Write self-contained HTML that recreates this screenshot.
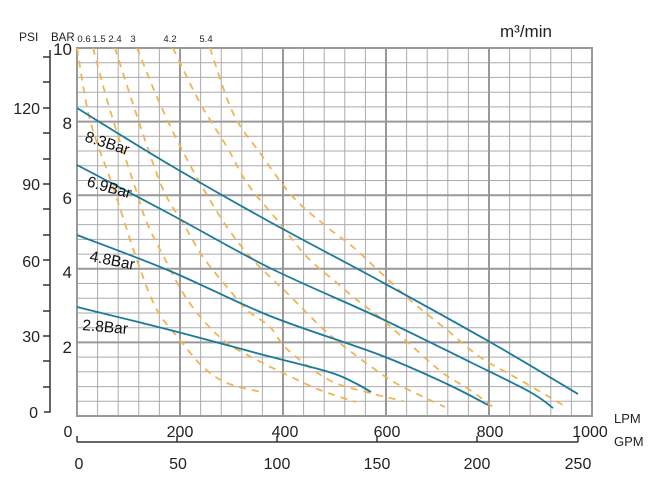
<!DOCTYPE html>
<html><head><meta charset="utf-8"><style>
html,body{margin:0;padding:0;background:#fff;}
svg{display:block;font-family:"Liberation Sans",sans-serif;}
</style></head><body>
<svg id="ch" width="668" height="490" viewBox="0 0 668 490" xmlns="http://www.w3.org/2000/svg">
<g stroke="#ababab" stroke-width="1">
<line x1="97.6" y1="48" x2="97.6" y2="416"/><line x1="118.2" y1="48" x2="118.2" y2="416"/><line x1="138.8" y1="48" x2="138.8" y2="416"/><line x1="159.4" y1="48" x2="159.4" y2="416"/>
<line x1="200.6" y1="48" x2="200.6" y2="416"/><line x1="221.2" y1="48" x2="221.2" y2="416"/><line x1="241.8" y1="48" x2="241.8" y2="416"/><line x1="262.4" y1="48" x2="262.4" y2="416"/>
<line x1="303.6" y1="48" x2="303.6" y2="416"/><line x1="324.2" y1="48" x2="324.2" y2="416"/><line x1="344.8" y1="48" x2="344.8" y2="416"/><line x1="365.4" y1="48" x2="365.4" y2="416"/>
<line x1="406.6" y1="48" x2="406.6" y2="416"/><line x1="427.2" y1="48" x2="427.2" y2="416"/><line x1="447.8" y1="48" x2="447.8" y2="416"/><line x1="468.4" y1="48" x2="468.4" y2="416"/>
<line x1="509.6" y1="48" x2="509.6" y2="416"/><line x1="530.2" y1="48" x2="530.2" y2="416"/><line x1="550.8" y1="48" x2="550.8" y2="416"/><line x1="571.4" y1="48" x2="571.4" y2="416"/>
<line x1="77" y1="62.7" x2="592" y2="62.7"/><line x1="77" y1="77.4" x2="592" y2="77.4"/><line x1="77" y1="92.2" x2="592" y2="92.2"/><line x1="77" y1="106.9" x2="592" y2="106.9"/>
<line x1="77" y1="136.3" x2="592" y2="136.3"/><line x1="77" y1="151" x2="592" y2="151"/><line x1="77" y1="165.8" x2="592" y2="165.8"/><line x1="77" y1="180.5" x2="592" y2="180.5"/>
<line x1="77" y1="209.9" x2="592" y2="209.9"/><line x1="77" y1="224.6" x2="592" y2="224.6"/><line x1="77" y1="239.4" x2="592" y2="239.4"/><line x1="77" y1="254.1" x2="592" y2="254.1"/>
<line x1="77" y1="283.5" x2="592" y2="283.5"/><line x1="77" y1="298.2" x2="592" y2="298.2"/><line x1="77" y1="313" x2="592" y2="313"/><line x1="77" y1="327.7" x2="592" y2="327.7"/>
<line x1="77" y1="357.1" x2="592" y2="357.1"/><line x1="77" y1="371.8" x2="592" y2="371.8"/><line x1="77" y1="386.6" x2="592" y2="386.6"/><line x1="77" y1="401.3" x2="592" y2="401.3"/>
</g>
<g stroke="#999" stroke-width="2" fill="none">
<line x1="180" y1="48" x2="180" y2="416"/><line x1="283" y1="48" x2="283" y2="416"/><line x1="386" y1="48" x2="386" y2="416"/><line x1="489" y1="48" x2="489" y2="416"/>
<line x1="77" y1="121.6" x2="592" y2="121.6"/><line x1="77" y1="195.2" x2="592" y2="195.2"/><line x1="77" y1="268.8" x2="592" y2="268.8"/><line x1="77" y1="342.4" x2="592" y2="342.4"/>
<rect x="77" y="48" width="515" height="368"/>
</g>
<g class="sm" stroke="#f0b454" stroke-width="1.8" fill="none" stroke-dasharray="7,6" stroke-linejoin="round">
<polyline points="77,48 90,120 113,187 138,263 157,310 180,340 203,367 227,383 261,392"/>
<polyline points="93,48 110,110 135,187 147,223 167,263 183,293 203,320 227,343 257,360 283,373 320,390 356,402"/>
<polyline points="115,48 135,110 162,187 183,223 203,257 227,287 247,310 270,327 288,350 329,380 370,393 403,401"/>
<polyline points="137,48 157,97 177,140 200,183 227,227 253,260 287,293 330,335 380,373 403,387 445,407"/>
<polyline points="173,48 200,103 227,147 247,183 277,220 307,257 337,283 357,300 383,320 413,347 443,373 470,390 497,410"/>
<polyline points="210,48 233,113 260,153 293,197 327,227 353,247 380,272 410,300 447,330 480,357 520,380 563,405"/>
</g>
<g class="sm" stroke="#1b7a9a" stroke-width="1.8" fill="none" stroke-linejoin="round">
<polyline points="77,108 170,165 270,222 380,281 490,342 578,394"/>
<polyline points="77,165 170,214 270,268 380,318 470,362 530,392 553,408"/>
<polyline points="77,235 170,271 270,316 380,355 447,384 488,405"/>
<polyline points="77,307 170,330 260,354 329,372 355,383 371,392"/>
</g>
<g font-size="15.5" fill="#111">
<text transform="translate(84,141) rotate(18)">8.3Bar</text>
<text transform="translate(86,186) rotate(16)">6.9Bar</text>
<text transform="translate(89,261) rotate(11)">4.8Bar</text>
<text transform="translate(82,330) rotate(5)">2.8Bar</text>
</g>
<g stroke="#333" stroke-width="1.5" fill="none">
<polyline points="50,50 50,412 44,412"/>
<line x1="43" y1="57" x2="50" y2="57"/><line x1="43" y1="82" x2="50" y2="82"/><line x1="43" y1="108" x2="50" y2="108"/><line x1="43" y1="133" x2="50" y2="133"/><line x1="43" y1="159" x2="50" y2="159"/><line x1="43" y1="184" x2="50" y2="184"/><line x1="43" y1="209" x2="50" y2="209"/><line x1="43" y1="235" x2="50" y2="235"/><line x1="43" y1="260" x2="50" y2="260"/><line x1="43" y1="285" x2="50" y2="285"/><line x1="43" y1="311" x2="50" y2="311"/><line x1="43" y1="336" x2="50" y2="336"/><line x1="43" y1="361" x2="50" y2="361"/><line x1="43" y1="387" x2="50" y2="387"/>
<line x1="77" y1="442" x2="578" y2="442"/>
<line x1="77" y1="436" x2="77" y2="442"/><line x1="177" y1="436" x2="177" y2="442"/><line x1="277" y1="436" x2="277" y2="442"/><line x1="377" y1="436" x2="377" y2="442"/><line x1="477" y1="436" x2="477" y2="442"/><line x1="578" y1="436" x2="578" y2="442"/>
</g>
<g font-size="16" fill="#222">
<text x="40" y="114" text-anchor="end">120</text>
<text x="40" y="190" text-anchor="end">90</text>
<text x="40" y="267" text-anchor="end">60</text>
<text x="40" y="342" text-anchor="end">30</text>
<text x="38" y="418" text-anchor="end">0</text>
<text x="72" y="55" text-anchor="end" font-size="17">10</text>
<text x="72" y="129" text-anchor="end" font-size="17">8</text>
<text x="72" y="204" text-anchor="end" font-size="17">6</text>
<text x="72" y="278" text-anchor="end" font-size="17">4</text>
<text x="72" y="353" text-anchor="end" font-size="17">2</text>
<text x="68" y="437" text-anchor="middle">0</text>
<text x="180" y="437" text-anchor="middle">200</text>
<text x="285" y="437" text-anchor="middle">400</text>
<text x="387" y="437" text-anchor="middle">600</text>
<text x="490" y="437" text-anchor="middle">800</text>
<text x="590" y="437" text-anchor="middle">1000</text>
<text x="79" y="469" text-anchor="middle">0</text>
<text x="178" y="469" text-anchor="middle">50</text>
<text x="277" y="469" text-anchor="middle">100</text>
<text x="377" y="469" text-anchor="middle">150</text>
<text x="477" y="469" text-anchor="middle">200</text>
<text x="578" y="469" text-anchor="middle">250</text>
<text x="614" y="423" font-size="13">LPM</text>
<text x="614" y="446" font-size="13">GPM</text>
<text x="500" y="37" font-size="17">m³/min</text>
<text x="19" y="41" font-size="12">PSI</text>
<text x="51" y="41" font-size="11.5">BAR</text>
</g>
<g font-size="9.5" fill="#222" text-anchor="middle">
<text x="84" y="42">0.6</text><text x="99" y="42">1.5</text><text x="115" y="42">2.4</text><text x="133" y="42">3</text><text x="170" y="42">4.2</text><text x="206" y="42">5.4</text>
</g>
</svg>
<script>
(function(){
var ns="http://www.w3.org/2000/svg";
document.querySelectorAll(".sm polyline").forEach(function(pl){
 var p=pl.getAttribute("points").trim().split(/\s+/).map(function(s){return s.split(",").map(Number);});
 var d="M"+p[0][0]+","+p[0][1];
 for(var i=0;i<p.length-1;i++){
  var p0=p[i-1]||p[i],p1=p[i],p2=p[i+1],p3=p[i+2]||p2;
  var c1=[p1[0]+(p2[0]-p0[0])/6,p1[1]+(p2[1]-p0[1])/6];
  var c2=[p2[0]-(p3[0]-p1[0])/6,p2[1]-(p3[1]-p1[1])/6];
  d+=" C"+c1[0].toFixed(1)+","+c1[1].toFixed(1)+" "+c2[0].toFixed(1)+","+c2[1].toFixed(1)+" "+p2[0]+","+p2[1];
 }
 var path=document.createElementNS(ns,"path");path.setAttribute("d",d);
 pl.parentNode.replaceChild(path,pl);
});
})();
</script>
</body></html>
